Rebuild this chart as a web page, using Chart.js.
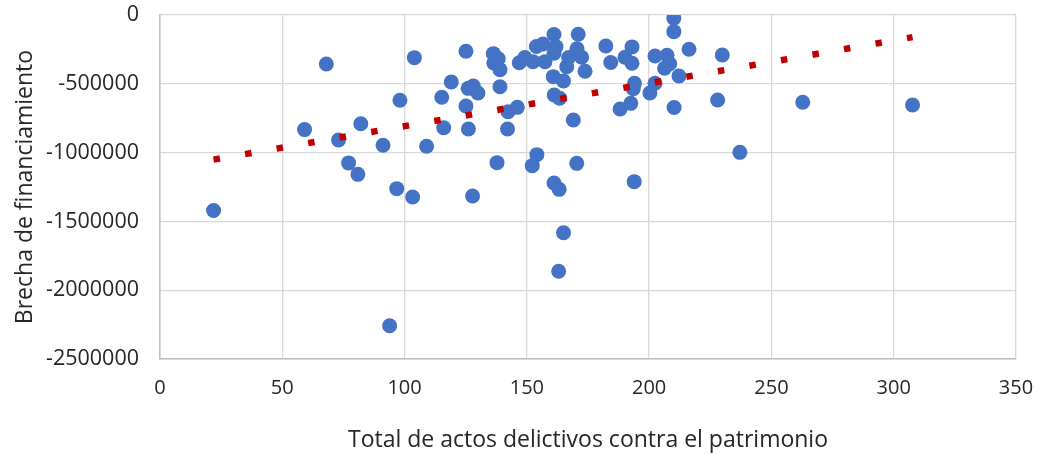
<!DOCTYPE html>
<html>
<head>
<meta charset="utf-8">
<script src="https://cdn.jsdelivr.net/npm/chart.js@4.4.1/dist/chart.umd.min.js"></script>
<style>
  html, body { margin: 0; padding: 0; background: #fff; }
  #wrap { width: 1038px; height: 454px; }
</style>
</head>
<body>
<div id="wrap"><canvas id="scatterChart"></canvas></div>
<script>
// Total de actos delictivos contra el patrimonio (x) vs brecha de financiamiento (y)
const actos = [
  21.9, 59.1, 68.0, 77.1, 80.9, 91.2, 82.1, 73.0, 98.1, 104.0,
  96.8, 103.3, 109.0, 115.2, 116.0, 119.1, 125.1, 126.0, 128.1, 130.0,
  125.1, 126.1, 127.8, 93.9, 136.3, 138.3, 136.5, 139.0, 139.0, 142.3,
  146.1, 142.1, 137.8, 146.9, 149.2, 152.5, 153.9, 156.6, 161.1, 161.9,
  161.1, 157.4, 171.0, 170.5, 167.1, 172.4, 166.3, 173.8, 160.8, 165.0,
  161.2, 163.4, 169.0, 154.1, 152.2, 170.4, 161.1, 163.2, 165.0, 163.0,
  182.3, 184.3, 193.0, 190.1, 193.0, 194.0, 193.5, 200.3, 192.5, 188.1,
  193.9, 202.4, 207.3, 208.4, 206.3, 202.4, 210.1, 210.1, 216.3, 212.2,
  210.2, 229.9, 228.0, 237.1, 262.8, 307.7
];
const brecha = [
  -1421000, -833000, -356000, -1075000, -1158000, -947000, -790000, -908000, -620000, -310000,
  -1262000, -1323000, -954000, -598000, -819000, -487000, -263000, -533000, -516000, -567000,
  -661000, -828000, -1315000, -2258000, -281000, -318000, -349000, -397000, -521000, -703000,
  -671000, -828000, -1073000, -347000, -309000, -339000, -229000, -211000, -142000, -230000,
  -278000, -339000, -140000, -246000, -309000, -307000, -376000, -409000, -448000, -480000,
  -581000, -605000, -763000, -1015000, -1095000, -1078000, -1221000, -1267000, -1582000, -1862000,
  -225000, -345000, -232000, -307000, -351000, -496000, -536000, -567000, -642000, -683000,
  -1211000, -298000, -293000, -354000, -387000, -496000, -24000, -121000, -249000, -443000,
  -672000, -291000, -618000, -998000, -634000, -654000
];
const xTicks = [0, 50, 100, 150, 200, 250, 300, 350];
const yTicks = [0, -500000, -1000000, -1500000, -2000000, -2500000];

// linear trend line (least squares), like Excel's "Lineal"
function linearFit(xs, ys) {
  let n = xs.length, sx = 0, sy = 0, sxy = 0, sxx = 0;
  for (let i = 0; i < n; i++) {
    sx += xs[i]; sy += ys[i];
    sxy += xs[i] * ys[i]; sxx += xs[i] * xs[i];
  }
  const m = (n * sxy - sx * sy) / (n * sxx - sx * sx);
  const b = (sy - m * sx) / n;
  return { m: m, b: b };
}
const fit = linearFit(actos, brecha);
const xMin = Math.min(...actos), xMax = Math.max(...actos);
const trend = [
  { x: xMin, y: fit.m * xMin + fit.b },
  { x: xMax, y: fit.m * xMax + fit.b }
];

const points = actos.map((v, i) => ({ x: v, y: brecha[i] }));

const textColor = '#262626';

const chartConfig = {
  type: 'scatter',
  data: {
    datasets: [
      {
        label: 'Brecha',
        data: points,
        backgroundColor: '#4472C4',
        borderColor: '#4472C4',
        borderWidth: 0,
        pointRadius: 7.5,
        pointHoverRadius: 7.5,
        order: 2
      },
      {
        label: 'Lineal',
        type: 'line',
        data: trend,
        borderColor: '#C00000',
        borderWidth: 6.5,
        borderDash: [6.5, 25.5],
        pointRadius: 0,
        fill: false,
        order: 1
      }
    ]
  },
  options: {
    responsive: true,
    maintainAspectRatio: false,
    animation: false,
    layout: { padding: { top: 15, right: 22, left: 0, bottom: 0 } },
    plugins: {
      legend: { display: false },
      tooltip: { enabled: false }
    },
    scales: {
      x: {
        type: 'linear',
        min: 0,
        max: 350,
        afterBuildTicks: function (scale) {
          scale.ticks = xTicks.map(v => ({ value: v }));
        },
        afterFit: function (scale) {
          scale.height = 95;
          scale.paddingLeft = 0;
          scale.paddingRight = 0;
        },
        grid: { color: '#D9D9D9', lineWidth: 1.3, drawTicks: false },
        border: { color: '#BFBFBF', width: 1.5 },
        ticks: { color: textColor, font: { family: 'Open Sans', size: 20 }, padding: 17, maxRotation: 0 },
        title: {
          display: true,
          text: 'Total de actos delictivos contra el patrimonio',
          color: textColor,
          font: { family: 'Open Sans', size: 23 },
          padding: { top: 10, bottom: 0 }
        }
      },
      y: {
        type: 'linear',
        min: -2500000,
        max: 0,
        afterBuildTicks: function (scale) {
          scale.ticks = yTicks.map(v => ({ value: v }));
        },
        afterFit: function (scale) {
          scale.width = 160;
          scale.paddingTop = 0;
          scale.paddingBottom = 0;
        },
        grid: { color: '#D9D9D9', lineWidth: 1.3, drawTicks: false },
        border: { color: '#BFBFBF', width: 1.5 },
        ticks: {
          color: textColor,
          font: { family: 'Open Sans', size: 21.5 },
          padding: 21,
          callback: function (v) { return String(v); }
        },
        title: {
          display: true,
          text: 'Brecha de financiamiento',
          color: textColor,
          font: { family: 'Open Sans', size: 23 },
          padding: { top: 12, bottom: 0 }
        }
      }
    }
  }
};

window.onload = function () {
  const ctx = document.getElementById('scatterChart').getContext('2d');
  window.myScatter = new Chart(ctx, chartConfig);
};
</script>
</body>
</html>
